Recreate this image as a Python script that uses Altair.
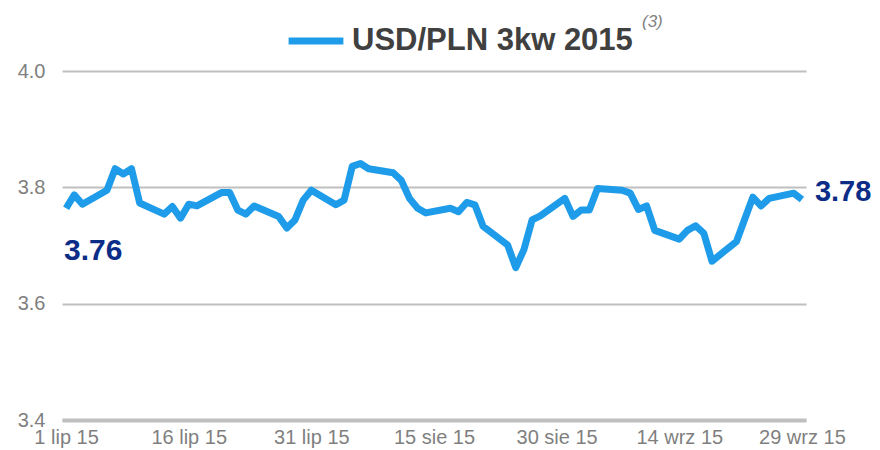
import altair as alt
import pandas as pd

# ---- data ----
dates = [
    "2015-07-01", "2015-07-02", "2015-07-03", "2015-07-06", "2015-07-07", "2015-07-08",
    "2015-07-09", "2015-07-10", "2015-07-13", "2015-07-14", "2015-07-15", "2015-07-16",
    "2015-07-17", "2015-07-20", "2015-07-21", "2015-07-22", "2015-07-23", "2015-07-24",
    "2015-07-27", "2015-07-28", "2015-07-29", "2015-07-30", "2015-07-31",
    "2015-08-03", "2015-08-04", "2015-08-05", "2015-08-06", "2015-08-07", "2015-08-10",
    "2015-08-11", "2015-08-12", "2015-08-13", "2015-08-14", "2015-08-17", "2015-08-18",
    "2015-08-19", "2015-08-20", "2015-08-21", "2015-08-24", "2015-08-25", "2015-08-26",
    "2015-08-27", "2015-08-28", "2015-08-31",
    "2015-09-01", "2015-09-02", "2015-09-03", "2015-09-04", "2015-09-07", "2015-09-08",
    "2015-09-09", "2015-09-10", "2015-09-11", "2015-09-14", "2015-09-15", "2015-09-16",
    "2015-09-17", "2015-09-18", "2015-09-21", "2015-09-22", "2015-09-23", "2015-09-24",
    "2015-09-25", "2015-09-28", "2015-09-29",
]
rates = [
    3.764, 3.787, 3.771, 3.795, 3.832, 3.823,
    3.832, 3.773, 3.754, 3.767, 3.747, 3.771,
    3.768, 3.791, 3.791, 3.761, 3.754, 3.768,
    3.750, 3.730, 3.744, 3.778, 3.795,
    3.770, 3.778, 3.836, 3.841, 3.832, 3.825,
    3.812, 3.781, 3.764, 3.756, 3.764, 3.758,
    3.774, 3.770, 3.733, 3.701, 3.662, 3.693,
    3.744, 3.751, 3.781,
    3.750, 3.761, 3.761, 3.798, 3.795, 3.790,
    3.762, 3.768, 3.726, 3.711, 3.726, 3.734,
    3.721, 3.673, 3.707, 3.745, 3.783, 3.768,
    3.781, 3.790, 3.779,
]
series_name = "USD/PLN 3kw 2015"
footnote = "(3)"

tick_days = [0, 15, 30, 45, 60, 75, 90]
tick_labels = ["1 lip 15", "16 lip 15", "31 lip 15", "15 sie 15", "30 sie 15", "14 wrz 15", "29 wrz 15"]
y_ticks = [3.4, 3.6, 3.8, 4.0]

# ---- table ----
start = pd.Timestamp("2015-07-01")
df = pd.DataFrame({"date": pd.to_datetime(dates), "rate": rates})
df["day"] = (df["date"] - start).dt.days
df["series"] = series_name
df["label"] = df["rate"].map(lambda v: f"{v:.2f}")

first = df.iloc[[0]]
last = df.iloc[[-1]]

FONT = "Liberation Sans"
LINE_COLOR = "#1E9CEA"
NAVY = "#0B2C87"
GRID = "#BFBFBF"

label_expr = "[" + ",".join(f"'{t}'" for t in tick_labels) + "][round(datum.value/15)]"

x_enc = alt.X(
    "day:Q",
    scale=alt.Scale(domain=[-0.5, 90.5], nice=False, zero=False),
    axis=alt.Axis(
        values=tick_days, labelExpr=label_expr, title=None, grid=False, ticks=False,
        domainColor=GRID, domainWidth=4, labelFontSize=20, labelColor="#7F7F7F",
        labelFont=FONT, labelPadding=7, labelOverlap=False,
    ),
)
y_enc = alt.Y(
    "rate:Q",
    scale=alt.Scale(domain=[3.4, 4.0], nice=False, zero=False),
    axis=alt.Axis(
        values=y_ticks, format=".1f", title=None, domain=False, ticks=False,
        gridColor=GRID, gridWidth=2, labelFontSize=20, labelColor="#7F7F7F",
        labelFont=FONT, labelPadding=17,
    ),
)

line = alt.Chart(df).mark_line(strokeWidth=7, strokeJoin="round").encode(
    x=x_enc,
    y=y_enc,
    color=alt.Color(
        "series:N",
        scale=alt.Scale(range=[LINE_COLOR]),
        legend=alt.Legend(
            title=None, orient="none", legendX=223, legendY=-61,
            symbolType="stroke", symbolStrokeWidth=7, symbolSize=3000,
            labelFontSize=31, labelFontWeight="bold", labelColor="#404040",
            labelFont=FONT, labelOffset=5, padding=0, labelLimit=600,
        ),
    ),
)

first_label = alt.Chart(first).mark_text(
    align="left", baseline="middle", dx=-2, dy=43, fontSize=30,
    fontWeight="bold", color=NAVY, font=FONT,
).encode(x="day:Q", y="rate:Q", text="label:N")

last_label = alt.Chart(last).mark_text(
    align="left", baseline="middle", dx=13, dy=-8, fontSize=29,
    fontWeight="bold", color=NAVY, font=FONT,
).encode(x="day:Q", y="rate:Q", text="label:N")

note = alt.Chart(pd.DataFrame({"t": [footnote]})).mark_text(
    align="left", baseline="middle", fontSize=17, fontStyle="italic",
    color="#7F7F7F", font=FONT,
).encode(x=alt.value(580), y=alt.value(-49), text="t:N")

chart = alt.layer(line, first_label, last_label, note).properties(
    width=744,
    height=349,
    autosize=alt.AutoSizeParams(type="none"),
    padding={"left": 54, "top": 63, "right": 66, "bottom": 31},
).configure_view(stroke=None)

chart.save("out.html", embed_options={"renderer": "svg", "actions": False})
